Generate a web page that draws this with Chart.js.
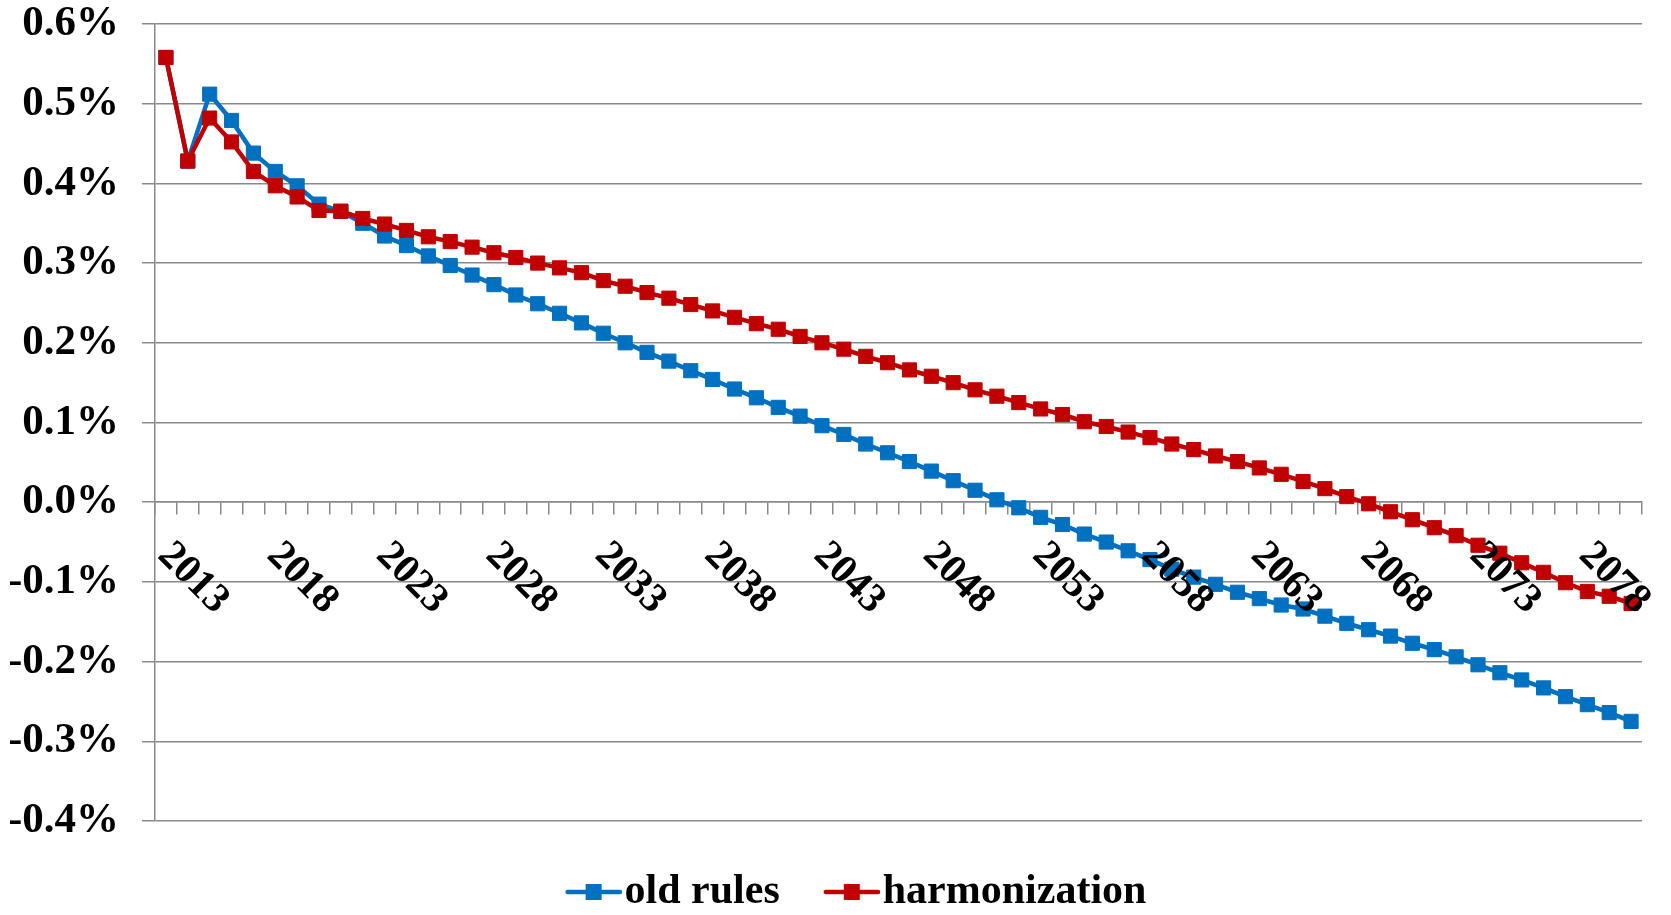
<!DOCTYPE html>
<html>
<head>
<meta charset="utf-8">
<script src="https://cdn.jsdelivr.net/npm/chart.js@4"></script>
<style>
  html, body { margin: 0; padding: 0; background: #fff; }
  #wrap { width: 1671px; height: 915px; position: relative; }
</style>
</head>
<body>
<div id="wrap"><canvas id="growthChart"></canvas></div>
<script>
// categories
const years = [
  2013, 2014, 2015, 2016, 2017, 2018, 2019, 2020, 2021, 2022,
  2023, 2024, 2025, 2026, 2027, 2028, 2029, 2030, 2031, 2032,
  2033, 2034, 2035, 2036, 2037, 2038, 2039, 2040, 2041, 2042,
  2043, 2044, 2045, 2046, 2047, 2048, 2049, 2050, 2051, 2052,
  2053, 2054, 2055, 2056, 2057, 2058, 2059, 2060, 2061, 2062,
  2063, 2064, 2065, 2066, 2067, 2068, 2069, 2070, 2071, 2072,
  2073, 2074, 2075, 2076, 2077, 2078, 2079, 2080
];
// only every fifth year gets a label
const labelYears = [2013, 2018, 2023, 2028, 2033, 2038, 2043, 2048, 2053, 2058, 2063, 2068, 2073, 2078];

// values in percent
const oldRules = [
  0.558, 0.428, 0.512, 0.479, 0.438, 0.415, 0.397, 0.374, 0.365, 0.350,
  0.334, 0.322, 0.309, 0.297, 0.285, 0.273, 0.260, 0.249, 0.237, 0.225,
  0.212, 0.200, 0.188, 0.177, 0.165, 0.154, 0.142, 0.131, 0.119, 0.108,
  0.096, 0.085, 0.073, 0.062, 0.051, 0.039, 0.027, 0.015, 0.003, -0.007,
  -0.019, -0.028, -0.040, -0.050, -0.061, -0.072, -0.084, -0.094, -0.103, -0.113,
  -0.121, -0.129, -0.134, -0.143, -0.152, -0.160, -0.168, -0.177, -0.185, -0.194,
  -0.204, -0.214, -0.223, -0.233, -0.244, -0.254, -0.264, -0.275
];
const harmonization = [
  0.558, 0.428, 0.482, 0.452, 0.415, 0.397, 0.383, 0.366, 0.365, 0.356,
  0.349, 0.341, 0.333, 0.327, 0.320, 0.313, 0.307, 0.300, 0.294, 0.288,
  0.278, 0.271, 0.263, 0.256, 0.248, 0.240, 0.232, 0.224, 0.217, 0.208,
  0.200, 0.192, 0.183, 0.175, 0.166, 0.158, 0.150, 0.141, 0.133, 0.125,
  0.117, 0.110, 0.101, 0.095, 0.088, 0.081, 0.073, 0.066, 0.058, 0.051,
  0.043, 0.035, 0.026, 0.017, 0.007, -0.002, -0.012, -0.022, -0.032, -0.042,
  -0.054, -0.064, -0.076, -0.088, -0.101, -0.112, -0.118, -0.127
];

const BLUE = '#0070C0';
const RED = '#C00000';
const GRID = '#8a8a8a';
const SERIF = '"Liberation Serif", "Times New Roman", serif';

// legend symbol: short line with a square in the middle
function makeIcon(color) {
  const c = document.createElement('canvas');
  c.width = 70; c.height = 18;
  const g = c.getContext('2d');
  g.strokeStyle = color;
  g.lineWidth = 4.5;
  g.lineCap = 'round';
  g.beginPath(); g.moveTo(16, 9); g.lineTo(68, 9); g.stroke();
  g.fillStyle = color;
  g.fillRect(34, 1, 16, 16);
  return c;
}
const legendIcons = [makeIcon(BLUE), makeIcon(RED)];

// year labels run down to the right from the axis, so draw them by hand
const yearLabels = {
  id: 'yearLabels',
  afterDraw(chart) {
    const { ctx, scales: { x, y } } = chart;
    const base = y.getPixelForValue(0);
    ctx.save();
    ctx.font = 'bold 41px ' + SERIF;
    ctx.fillStyle = '#000';
    ctx.textAlign = 'left';
    ctx.textBaseline = 'middle';
    years.forEach((yr, i) => {
      if (!labelYears.includes(yr)) return;
      ctx.save();
      ctx.translate(x.getPixelForValue(i) - 2, base + 47);
      ctx.rotate(Math.PI / 4);
      ctx.fillText(String(yr), 0, 0);
      ctx.restore();
    });
    ctx.restore();
  }
};

// legend fills the band under the plot, nudged to sit where the original one does
const legendBand = {
  id: 'legendBand',
  afterInit(chart) {
    const lg = chart.legend;
    const fit = lg.fit;
    lg.fit = function () {
      fit.call(this);
      this.height = 94;
    };
  },
  afterLayout(chart) {
    const lg = chart.legend;
    lg.left += 32;
    lg.right += 32;
    lg.top += 2;
    lg.bottom += 2;
  }
};

const ctx = document.getElementById('growthChart').getContext('2d');
new Chart(ctx, {
  type: 'line',
  data: {
    labels: years,
    datasets: [
      {
        label: 'old rules',
        data: oldRules,
        borderColor: BLUE,
        backgroundColor: BLUE,
        borderWidth: 4.5,
        pointStyle: 'rect',
        pointRadius: 10,
        pointBorderWidth: 1,
        tension: 0,
        order: 2
      },
      {
        label: 'harmonization',
        data: harmonization,
        borderColor: RED,
        backgroundColor: RED,
        borderWidth: 4.5,
        pointStyle: 'rect',
        pointRadius: 10,
        pointBorderWidth: 1,
        tension: 0,
        order: 1
      }
    ]
  },
  options: {
    responsive: true,
    maintainAspectRatio: false,
    animation: false,
    layout: { padding: { left: 10, right: 29, top: 0, bottom: 0 } },
    scales: {
      x: {
        type: 'category',
        position: { y: 0 },
        offset: true,
        grid: {
          offset: true,
          drawOnChartArea: false,
          drawTicks: true,
          tickLength: 12,
          color: GRID,
          lineWidth: 1.5
        },
        border: { display: true, color: GRID, width: 1.5 },
        ticks: { display: false }
      },
      y: {
        min: -0.4,
        max: 0.6,
        ticks: {
          stepSize: 0.1,
          padding: 23,
          color: '#000',
          font: { family: SERIF, size: 43, weight: 'bold' },
          callback: (v) => (Math.abs(v) < 1e-9 ? 0 : v).toFixed(1) + '%'
        },
        grid: { color: GRID, lineWidth: 1.5, drawTicks: true, tickLength: 13 },
        border: { display: true, color: GRID, width: 1.5 },
        afterFit: (scale) => {
          scale.width = 145;
          scale.paddingTop = 24;
          scale.paddingBottom = 24;
        }
      }
    },
    plugins: {
      tooltip: { enabled: false },
      legend: {
        position: 'bottom',
        labels: {
          usePointStyle: true,
          pointStyleWidth: 34,
          padding: 48,
          color: '#000',
          font: { family: SERIF, size: 42, weight: 'bold' },
          generateLabels: (chart) => chart.data.datasets.map((ds, i) => ({
            text: ds.label,
            pointStyle: legendIcons[i],
            fillStyle: ds.borderColor,
            strokeStyle: ds.borderColor,
            lineWidth: 0,
            fontColor: '#000',
            hidden: !chart.isDatasetVisible(i),
            datasetIndex: i
          }))
        }
      }
    }
  },
  plugins: [yearLabels, legendBand]
});
</script>
</body>
</html>
